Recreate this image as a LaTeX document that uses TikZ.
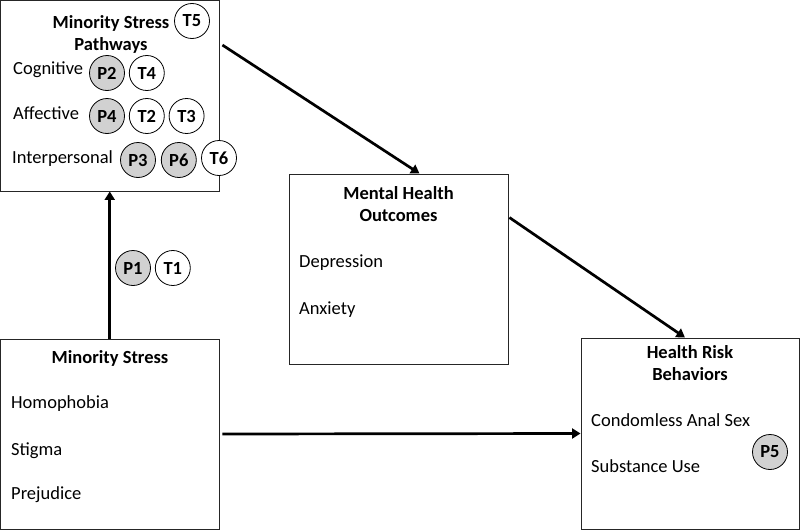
\documentclass[tikz,border=0pt]{standalone}
\usepackage{fontspec}
\setmainfont{Carlito}
\usetikzlibrary{shapes,arrows.meta,positioning,calc}

\begin{document}
\begin{tikzpicture}[x=1pt, y=-1pt,
	every node/.style={font=\fontsize{18.5}{22}\selectfont, inner sep=0pt},
	box/.style={rectangle, draw=black!85, line width=0.9pt},
	head/.style={font=\fontsize{18.5}{22}\selectfont\bfseries, anchor=base},
	item/.style={anchor=base west},
	pcirc/.style={circle, draw, line width=0.8pt, fill=black!18, minimum size=35pt, font=\fontsize{18.5}{22}\selectfont\bfseries},
	tcirc/.style={pcirc, fill=white},
	arr/.style={line width=2.7pt, -{Triangle[length=8.5pt,width=10pt]}}]
				\useasboundingbox (0,0) rectangle (800,530);
				
				% boxes
				\node[box, minimum width=218.5pt, minimum height=190.5pt] (msp) at (109.75,95.75) {};
				\node[box, minimum width=219pt, minimum height=190pt] (mho) at (398.5,269) {};
				\node[box, minimum width=218.5pt, minimum height=190pt] (ms) at (109.75,434) {};
				\node[box, minimum width=218pt, minimum height=191pt] (hrb) at (690,433.5) {};
				
				% arrows
				\draw[arr] (ms) -- (msp);
				\draw[arr] ([xshift=3pt]ms.east) -- (hrb.west);
				\draw[arr] ([shift={(3,45)}]msp.north east) -- ([xshift=21pt]mho.north);
				\draw[arr] ([shift={(1,44)}]mho.north east) -- ([xshift=-5pt]hrb.north);
				
				% minority stress pathways
				\node[head] (msp1) at (111,28) {Minority Stress};
				\node[head] (msp2) at (111,50) {Pathways};
				\node[tcirc] (t5) at (192,21) {T5};
				\node[item] (cog) at (13,74) {Cognitive};
				\node[pcirc] (p2) at (107,73) {P2};
				\node[tcirc, right=4pt of p2] (t4) {T4};
				\node[item] (aff) at (13,119) {Affective};
				\node[pcirc] (p4) at (107,116) {P4};
				\node[tcirc, right=4pt of p4] (t2) {T2};
				\node[tcirc, right=4pt of t2] (t3) {T3};
				\node[item] (inter) at (12,163) {Interpersonal};
				\node[pcirc] (p3) at (138,160) {P3};
				\node[pcirc, right=5pt of p3] (p6) {P6};
				\node[tcirc] (t6) at (219,158) {T6};
				
				\node[pcirc] (p1) at (133,268) {P1};
				\node[tcirc, right=4pt of p1] (t1) {T1};
				
				% minority stress
				\node[head] (ms1) at (110,363) {Minority Stress};
				\node[item] (homo) at (11,408) {Homophobia};
				\node[item] (stig) at (11,455) {Stigma};
				\node[item] (prej) at (11,499) {Prejudice};
				
				% mental health outcomes
				\node[head] (mho1) at (398.5,199) {Mental Health};
				\node[head] (mho2) at (398.5,221) {Outcomes};
				\node[item] (dep) at (299,267) {Depression};
				\node[item] (anx) at (299,314) {Anxiety};
				
				% health risk behaviors
				\node[head] (hrb1) at (690,358) {Health Risk};
				\node[head] (hrb2) at (690,380) {Behaviors};
				\node[item] (cas) at (591,426) {Condomless Anal Sex};
				\node[item] (sub) at (591,472) {Substance Use};
				\node[pcirc] (p5) at (770,452) {P5};
			\end{tikzpicture}
\end{document}
